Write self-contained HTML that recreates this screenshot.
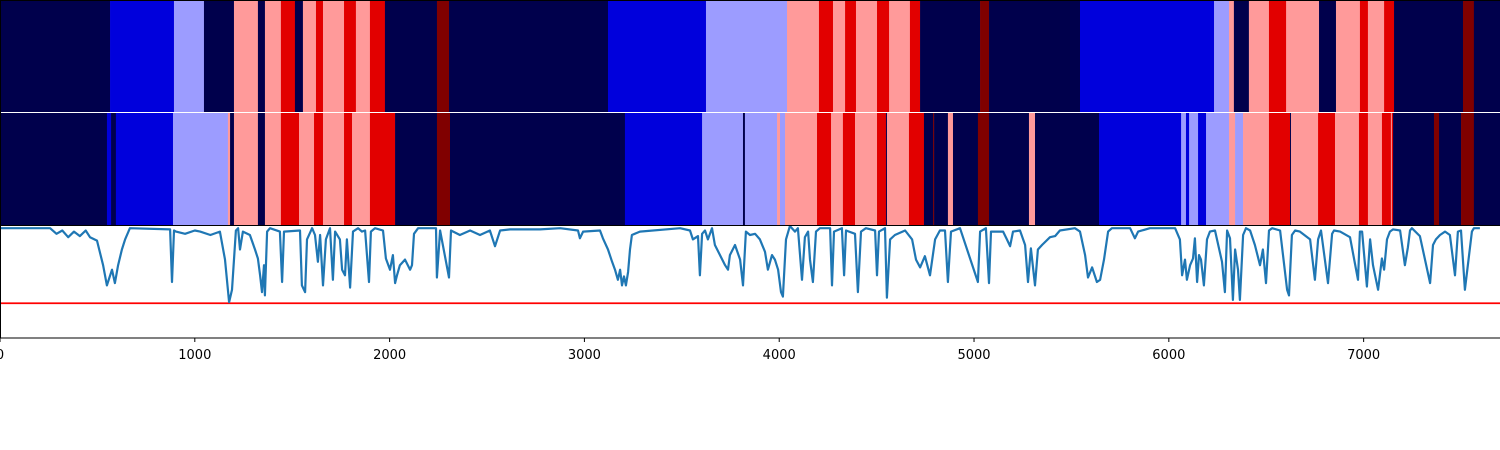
<!DOCTYPE html>
<html><head><meta charset="utf-8"><style>
html,body{margin:0;padding:0;background:#fff;width:1500px;height:450px;overflow:hidden}
svg{display:block}
text{font-family:"DejaVu Sans","Liberation Sans",sans-serif;font-size:13px;fill:#000}
</style></head><body>
<svg id="chart" width="1500" height="450" viewBox="0 0 1500 450" xmlns="http://www.w3.org/2000/svg">
<g id="bands"></g>
<g id="line"></g>
<g id="axes"></g>
</svg>
<script>
const xMax = 7700;
const colors = ["#00004c","#0000dc","#9c9cff","#ff9a9a","#e20000","#800000"];
const topStarts = [0,565,893,1047,1201,1324,1360,1442,1514,1555,1622,1658,1766,1827,1899,1976,2243,2305,3121,3624,4040,4204,4276,4338,4394,4502,4564,4671,4723,5031,5077,5544,6232,6309,6334,6411,6514,6602,6771,6858,6981,7022,7105,7156,7510,7566];
const topStates = [0,1,2,0,3,0,3,4,0,3,4,3,4,3,4,0,5,0,1,2,3,4,3,4,3,4,3,4,0,5,0,1,2,3,0,3,4,3,0,3,4,3,4,0,5,0];
const midStarts = [0,549,570,595,888,1170,1181,1201,1324,1360,1442,1535,1612,1658,1766,1807,1899,2028,2243,2310,3208,3604,3814,3824,3989,4004,4030,4194,4266,4327,4389,4502,4548,4553,4666,4743,4790,4795,4866,4892,5020,5077,5282,5313,5642,6063,6088,6104,6150,6191,6309,6340,6381,6514,6622,6627,6766,6853,6976,7022,7094,7140,7145,7151,7361,7387,7500,7566];
const midStates = [0,1,0,1,2,3,0,3,0,3,4,3,4,3,4,3,4,0,5,0,1,2,0,2,3,2,3,4,3,4,3,4,0,3,4,0,5,0,3,0,5,0,3,0,1,2,1,2,1,2,3,2,3,4,0,3,4,3,4,3,4,3,4,0,5,0,5,0];
const lineX = [0,257,290,320,350,380,410,440,462,498,529,549,575,590,606,626,642,667,873,883,893,903,950,1000,1027,1080,1129,1155,1176,1191,1211,1222,1232,1247,1283,1309,1324,1335,1345,1355,1360,1371,1386,1437,1448,1458,1540,1550,1566,1576,1602,1617,1632,1643,1658,1673,1694,1709,1720,1745,1756,1771,1781,1797,1812,1838,1858,1874,1894,1904,1925,1966,1981,2002,2017,2028,2038,2053,2079,2105,2115,2125,2146,2238,2243,2259,2305,2315,2361,2413,2464,2515,2541,2567,2618,2772,2875,2967,2977,2993,3080,3095,3121,3142,3157,3172,3183,3193,3203,3213,3224,3234,3244,3285,3491,3542,3557,3583,3593,3604,3619,3634,3655,3670,3696,3722,3737,3747,3773,3799,3814,3829,3850,3876,3901,3927,3942,3963,3978,3994,4009,4019,4035,4055,4081,4096,4117,4132,4148,4158,4173,4189,4209,4261,4271,4281,4322,4333,4343,4389,4404,4420,4445,4492,4502,4512,4543,4553,4569,4594,4646,4682,4702,4723,4748,4774,4800,4825,4851,4866,4882,4928,5020,5031,5061,5077,5087,5133,5149,5169,5185,5200,5236,5262,5277,5292,5313,5328,5349,5390,5416,5441,5518,5544,5570,5585,5606,5631,5647,5667,5688,5708,5801,5826,5842,5903,6032,6057,6068,6083,6093,6109,6124,6134,6145,6155,6165,6180,6196,6211,6237,6273,6288,6299,6314,6329,6340,6355,6365,6381,6396,6417,6442,6468,6483,6499,6514,6530,6571,6607,6617,6632,6648,6673,6725,6750,6766,6781,6817,6838,6848,6879,6930,6971,6981,6992,7017,7033,7048,7074,7094,7105,7120,7135,7151,7187,7212,7227,7238,7248,7289,7341,7356,7371,7392,7418,7443,7469,7484,7500,7520,7556,7566,7597,7700];
const lineV = [0.98,0.98,0.93,0.96,0.90,0.95,0.91,0.96,0.90,0.87,0.65,0.47,0.61,0.49,0.65,0.79,0.88,0.98,0.97,0.50,0.96,0.95,0.93,0.96,0.95,0.92,0.95,0.70,0.32,0.43,0.96,0.98,0.79,0.95,0.92,0.79,0.71,0.56,0.41,0.65,0.38,0.95,0.98,0.95,0.50,0.95,0.96,0.47,0.41,0.88,0.98,0.92,0.68,0.92,0.47,0.88,0.98,0.52,0.95,0.88,0.61,0.56,0.88,0.45,0.95,0.98,0.95,0.96,0.50,0.95,0.98,0.96,0.71,0.61,0.74,0.49,0.56,0.65,0.70,0.61,0.65,0.93,0.98,0.98,0.54,0.96,0.54,0.96,0.92,0.96,0.92,0.96,0.82,0.96,0.97,0.97,0.98,0.96,0.89,0.95,0.96,0.89,0.79,0.68,0.61,0.52,0.61,0.47,0.55,0.47,0.59,0.79,0.92,0.95,0.98,0.96,0.88,0.91,0.56,0.93,0.96,0.88,0.98,0.83,0.74,0.65,0.61,0.74,0.83,0.70,0.47,0.95,0.92,0.93,0.88,0.77,0.61,0.74,0.70,0.61,0.41,0.37,0.88,1.00,0.95,0.98,0.52,0.90,0.95,0.70,0.50,0.95,0.98,0.98,0.47,0.95,0.98,0.56,0.96,0.93,0.41,0.95,0.98,0.96,0.56,0.95,0.98,0.36,0.88,0.92,0.96,0.88,0.70,0.63,0.73,0.56,0.88,0.96,0.96,0.50,0.95,0.98,0.50,0.95,0.98,0.49,0.95,0.95,0.95,0.88,0.82,0.95,0.96,0.83,0.50,0.80,0.47,0.79,0.83,0.90,0.91,0.96,0.98,0.95,0.74,0.54,0.63,0.50,0.52,0.70,0.95,0.98,0.98,0.89,0.95,0.98,0.98,0.88,0.56,0.70,0.52,0.65,0.71,0.89,0.50,0.74,0.70,0.47,0.88,0.95,0.96,0.68,0.41,0.96,0.89,0.34,0.79,0.61,0.34,0.92,0.98,0.96,0.83,0.65,0.79,0.49,0.96,0.98,0.96,0.43,0.38,0.92,0.96,0.95,0.88,0.52,0.88,0.96,0.49,0.93,0.96,0.95,0.90,0.52,0.95,0.95,0.46,0.88,0.65,0.43,0.71,0.61,0.88,0.95,0.97,0.96,0.65,0.81,0.96,0.98,0.91,0.49,0.83,0.88,0.92,0.95,0.92,0.56,0.95,0.96,0.43,0.95,0.98,0.98];
const tickVals = [0,1000,2000,3000,4000,5000,6000,7000];
const threshold = 0.31;

const NS = "http://www.w3.org/2000/svg";
const sx = v => v / xMax * 1500;
const lineTop = 226, lineBot = 338;
const sy = v => lineBot - v * (lineBot - lineTop);
function mk(tag, attrs, parent){const e=document.createElementNS(NS,tag);for(const k in attrs)e.setAttribute(k,attrs[k]);parent.appendChild(e);return e;}

const bands = document.getElementById('bands');
function drawBands(starts, states, y, h, label){
  for(let i=0;i<starts.length;i++){
    const x0 = sx(starts[i]);
    const x1 = sx(i+1<starts.length ? starts[i+1] : xMax);
    const r = mk('rect',{x:x0,y:y,width:x1-x0+0.3,height:h,fill:colors[states[i]]},bands);
    
    
  }
}
drawBands(topStarts, topStates, 0, 112, 'top-band');
drawBands(midStarts, midStates, 113, 112.5, 'middle-band');
const sep = mk('rect',{x:0,y:112,width:1500,height:1,fill:'#fff'},bands);



const lineG = document.getElementById('line');
const th = mk('line',{x1:0,x2:1500,y1:sy(threshold),y2:sy(threshold),stroke:'#ff0000','stroke-width':1.8},lineG);


let d='';
for(let i=0;i<lineX.length;i++){d+=(i?'L':'M')+sx(lineX[i]).toFixed(1)+' '+sy(lineV[i]).toFixed(1);}
const p = mk('path',{d:d,fill:'none',stroke:'#1f77b4','stroke-width':2.2,'stroke-linejoin':'round'},lineG);



const axes = document.getElementById('axes');
const frame = mk('rect',{x:0.5,y:0.5,width:1500,height:337.5,fill:'none',stroke:'#000','stroke-width':1},axes);


const sep2 = mk('line',{x1:0,x2:1500,y1:225.5,y2:225.5,stroke:'#000','stroke-width':1},axes);


for(const t of tickVals){
  const x = sx(t);
  const tk = mk('line',{x1:x,x2:x,y1:338,y2:342,stroke:'#000','stroke-width':1},axes);
  
  
  const tx = mk('text',{x:x,y:359,'text-anchor':'middle'},axes);
  tx.textContent = t;
  
  
}
</script>
</body></html>
